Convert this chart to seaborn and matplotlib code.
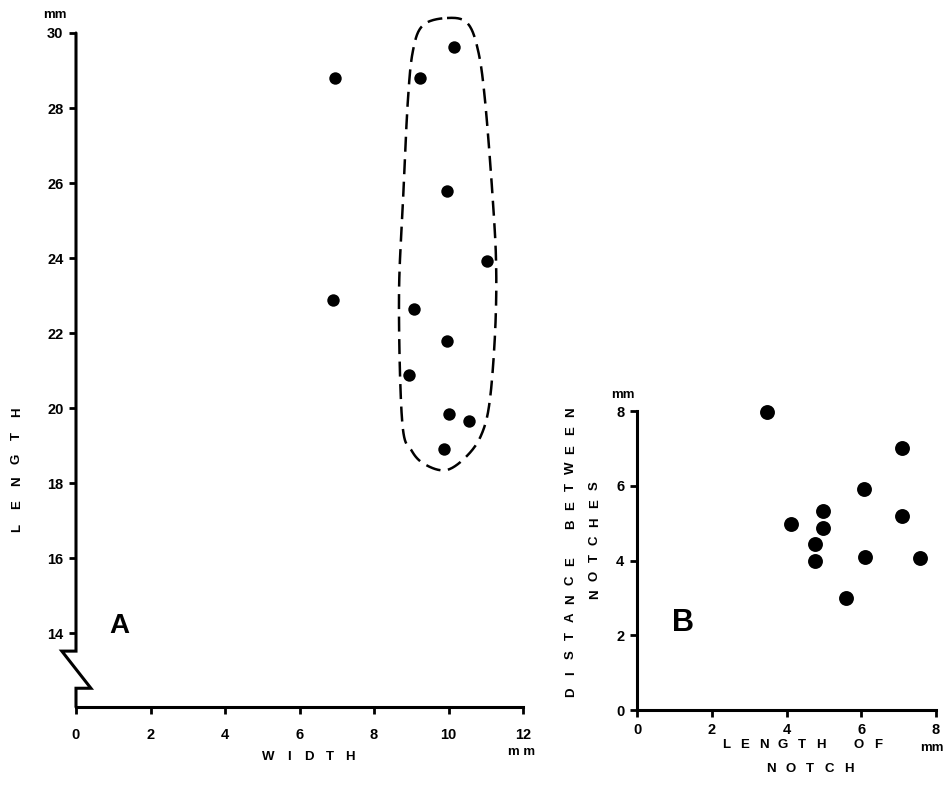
import numpy as np
import pandas as pd
import seaborn as sns
import matplotlib.pyplot as plt

# panel A: width vs length (mm)
width_a = [6.95, 9.23, 10.15, 9.96, 11.03, 6.90, 9.07, 9.96, 8.94, 10.01, 10.55, 9.88]
length_a = [28.8, 28.8, 29.63, 25.79, 23.92, 22.88, 22.64, 21.79, 20.88, 19.84, 19.65, 18.91]

# dashed outline round the cluster
outline_x = [9.96, 10.50, 10.79, 10.98, 11.19, 11.28, 11.25, 11.11, 10.90, 10.52,
             9.96, 9.40, 9.02, 8.76, 8.67, 8.78, 8.91, 9.05, 9.32]
outline_y = [30.40, 30.27, 29.55, 28.21, 25.55, 23.76, 22.00, 20.21, 19.33, 18.75,
             18.35, 18.48, 18.85, 19.60, 22.88, 25.55, 28.21, 29.55, 30.21]

# panel B: length of notch vs distance between notches (mm)
notch_len = [3.47, 7.08, 6.07, 7.10, 4.98, 4.11, 4.98, 4.77, 4.77, 6.10, 7.58, 5.58]
notch_dist = [7.96, 7.0, 5.92, 5.19, 5.33, 4.97, 4.88, 4.44, 3.99, 4.10, 4.08, 2.99]

ticks_a_x = [0, 2, 4, 6, 8, 10, 12]
ticks_a_y = [14, 16, 18, 20, 22, 24, 26, 28, 30]
ticks_b = [0, 2, 4, 6, 8]

W, H = 951, 792


def closed_spline(xs, ys, n=24):
    P = np.column_stack([xs, ys])
    m = len(P)
    t = np.linspace(0, 1, n, endpoint=False)[:, None]
    segs = []
    for i in range(m):
        p0, p1, p2, p3 = P[i - 1], P[i], P[(i + 1) % m], P[(i + 2) % m]
        segs.append(0.5 * (2 * p1 + (-p0 + p2) * t + (2 * p0 - 5 * p1 + 4 * p2 - p3) * t ** 2
                           + (-p0 + 3 * p1 - 3 * p2 + p3) * t ** 3))
    out = np.vstack(segs)
    return np.vstack([out, out[:1]])


def spaced(fig, text, cx, cy, pitch, vertical=False, size=9.5):
    n = len(text)
    for i, ch in enumerate(text):
        off = (i - (n - 1) / 2) * pitch
        if vertical:
            x, y, rot = cx, cy - off, 90
        else:
            x, y, rot = cx + off, cy, 0
        fig.text(x / W, 1 - y / H, ch, rotation=rot, ha='center', va='center',
                 fontsize=size, fontweight='bold')


def px(fig, x, y, s, **kw):
    fig.text(x / W, 1 - y / H, s, ha='center', va='center', fontweight='bold', **kw)


sns.set_style("ticks")
plt.rcParams['font.family'] = ['Liberation Sans', 'DejaVu Sans']
plt.rcParams['font.weight'] = 'bold'
for k in ('text.color', 'xtick.color', 'ytick.color', 'axes.edgecolor', 'axes.labelcolor'):
    plt.rcParams[k] = 'black'

fig = plt.figure(figsize=(W / 100, H / 100), dpi=100, facecolor='white')
axA = fig.add_axes([76 / W, 1 - 707 / H, (523 - 76) / W, (707 - 33) / H])
axB = fig.add_axes([637 / W, 1 - 710 / H, (936 - 637) / W, (710 - 411) / H])

dfA = pd.DataFrame({'width': width_a, 'length': length_a})
dfB = pd.DataFrame({'notch': notch_len, 'dist': notch_dist})

sns.scatterplot(data=dfA, x='width', y='length', ax=axA, color='black', s=80,
                edgecolor='black', linewidth=0, clip_on=False, zorder=5)
sns.scatterplot(data=dfB, x='notch', y='dist', ax=axB, color='black', s=115,
                edgecolor='black', linewidth=0, clip_on=False, zorder=5)

curve = closed_spline(outline_x, outline_y)
axA.plot(curve[:, 0], curve[:, 1], color='black', lw=1.8, ls=(0, (6, 3)), clip_on=False)

ybot = 12.03
axA.set_xlim(0, 12)
axA.set_ylim(ybot, 30)
axA.set_xticks(ticks_a_x)
axA.set_yticks(ticks_a_y)
axA.spines['left'].set_visible(False)
axA.spines[['top', 'right']].set_visible(False)
# axis with the break
axA.plot([0, 0, -0.38, 0.40, 0, 0], [30, 13.52, 13.52, 12.53, 12.53, ybot],
         color='black', lw=2.2, clip_on=False, solid_joinstyle='miter', zorder=4)

axB.set_xlim(0, 8)
axB.set_ylim(0, 8)
axB.set_xticks(ticks_b)
axB.set_yticks(ticks_b)
axB.spines[['top', 'right']].set_visible(False)

for ax in (axA, axB):
    ax.set_xlabel('')
    ax.set_ylabel('')
    ax.set_facecolor('white')
    for sp in ('left', 'bottom'):
        ax.spines[sp].set_linewidth(2.2)
        ax.spines[sp].set_color('black')
    ax.tick_params(direction='out', length=5, width=2, labelsize=10.5, pad=4, colors='black')
    for lab in ax.get_xticklabels() + ax.get_yticklabels():
        lab.set_fontweight('bold')
axA.tick_params(axis='x', pad=10)
axB.tick_params(axis='x', pad=4)

# texts
px(fig, 55, 15, 'mm', fontsize=9.5)
px(fig, 522, 752, 'm m', fontsize=9.5)
px(fig, 623, 395, 'mm', fontsize=9.5)
px(fig, 932, 748, 'mm', fontsize=9.5)
px(fig, 119, 626, 'A', fontsize=20)
px(fig, 683, 623, 'B', fontsize=22)

spaced(fig, 'WIDTH', 309, 757, 20.5)
spaced(fig, 'LENGTH', 17, 470, 23, vertical=True)
spaced(fig, 'DISTANCE BETWEEN', 571, 552, 18.7, vertical=True)
spaced(fig, 'NOTCHES', 595, 540, 18, vertical=True)
spaced(fig, 'LENGTH OF', 802, 745, 19)
spaced(fig, 'NOTCH', 810, 769, 19.5)

plt.savefig('out.png', dpi=100, facecolor='white')
